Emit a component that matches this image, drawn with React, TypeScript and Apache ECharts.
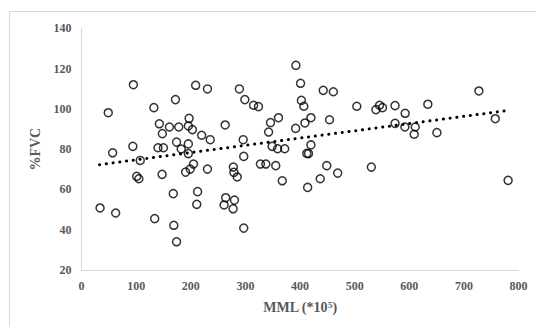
import React, { useEffect, useRef } from "react";
import * as echarts from "echarts";

const mmlValues = [
  34, 49, 57, 62.5, 95, 94, 101, 105, 107.5, 132.5, 134, 142.5, 140, 150, 148, 147.5,
  161, 172, 168, 169, 174, 174, 178, 182.5, 197, 195.6, 195.6, 203, 195.6, 190.6, 199,
  205, 209, 212.5, 211, 220, 230.6, 230.6, 235.6, 263, 264, 261, 278, 279, 280, 277.5,
  285, 289, 296, 297, 299, 297, 315, 324, 327.5, 337.5, 342.5, 346, 349, 355.6, 360.6,
  359, 372, 367.5, 392.5, 392, 401, 402.5, 407, 409, 420, 420, 412.5, 415.6, 414, 437,
  442.5, 449, 454, 461, 469, 504, 530.6, 539, 545.6, 551, 574, 574, 592.5, 592, 611,
  609, 634, 650.6, 727.5, 757.5, 781,
];
const fvcValues = [
  50.8, 98.1, 78.2, 48.3, 112, 81.4, 66.5, 65.3, 74.4, 100.6, 45.5, 92.6, 80.7, 80.7,
  87.7, 67.5, 91, 104.6, 57.9, 42.2, 34, 83.5, 91, 80.1, 95.3, 82.6, 91.5, 89.7, 77.8,
  68.6, 70.1, 72.6, 111.7, 58.9, 52.6, 86.9, 109.9, 70.1, 84.7, 92, 55.9, 52.3, 71.1,
  68.5, 54.7, 50.4, 66.2, 109.9, 84.7, 76.4, 104.6, 40.8, 101.8, 101.1, 72.6, 72.6,
  88.5, 93.2, 81.4, 71.8, 95.6, 80.2, 80.2, 64.3, 121.6, 90.3, 112.7, 104.2, 101.3, 93,
  95.6, 82.1, 77.9, 77.8, 61, 65.3, 109.2, 71.8, 94.6, 108.5, 68.1, 101.3, 71.1, 99.6,
  101.8, 100.6, 101.6, 92.8, 97.8, 91, 91, 87.4, 102.3, 88.2, 108.9, 95.1, 64.5,
];
const trendX = [33, 775];
const trendY = [72.3, 99.0];
const xTicks = [0, 100, 200, 300, 400, 500, 600, 700, 800];
const yTicks = [20, 40, 60, 80, 100, 120, 140];

export default function App() {
  const ref = useRef<HTMLDivElement>(null);
  useEffect(() => {
    if (!ref.current) return;
    const chart = echarts.init(ref.current, null, { renderer: "svg" });
    const font = "'Liberation Serif', 'Times New Roman', serif";
    const gray = "#595959";
    chart.setOption({
      animation: false,
      backgroundColor: "#fff",
      graphic: [
        {
          type: "rect",
          shape: { x: 9.5, y: 11.5, width: 600, height: 400 },
          style: { fill: "none", stroke: "#d9d9d9", lineWidth: 1 },
          silent: true,
        },
      ],
      grid: { left: 81.5, right: 17.5, top: 28.3, bottom: 57 },
      xAxis: {
        type: "value",
        min: xTicks[0],
        max: xTicks[xTicks.length - 1],
        interval: 100,
        name: "MML (*10{sup|5})",
        nameLocation: "middle",
        nameGap: 30,
        nameTextStyle: {
          fontFamily: font,
          fontSize: 14,
          fontWeight: "bold",
          color: gray,
          rich: {
            sup: { fontSize: 9, fontWeight: "bold", fontFamily: font, color: gray, verticalAlign: "top", padding: [0, 0, 6, 0] },
          },
        },
        axisLine: { show: true, lineStyle: { color: "#d9d9d9", width: 1 } },
        axisTick: { show: false },
        splitLine: { show: false },
        axisLabel: { fontFamily: font, fontSize: 12, fontWeight: "bold", color: gray, margin: 10 },
      },
      yAxis: {
        type: "value",
        min: yTicks[0],
        max: yTicks[yTicks.length - 1],
        interval: 20,
        name: "%FVC",
        nameLocation: "middle",
        nameGap: 39,
        nameTextStyle: { fontFamily: font, fontSize: 14, fontWeight: "bold", color: gray },
        axisLine: { show: true, lineStyle: { color: "#d9d9d9", width: 1 } },
        axisTick: { show: false },
        splitLine: { show: false },
        axisLabel: { fontFamily: font, fontSize: 12, fontWeight: "bold", color: gray, margin: 10 },
      },
      series: [
        {
          type: "line",
          data: trendX.map((x, i) => [x, trendY[i]]),
          showSymbol: false,
          symbol: "none",
          lineStyle: { color: "#000", width: 3, type: [0.1, 6.7], cap: "round" },
          z: 1,
        },
        {
          type: "scatter",
          data: mmlValues.map((x, i) => [x, fvcValues[i]]),
          symbol: "circle",
          symbolSize: 8,
          itemStyle: { color: "rgba(255,255,255,0)", borderColor: "#000", borderWidth: 1.5 },
          z: 2,
        },
      ],
    });
    return () => chart.dispose();
  }, []);
  return <div ref={ref} style={{ width: 536, height: 327, position: "absolute", left: 0, top: 0 }} />;
}
